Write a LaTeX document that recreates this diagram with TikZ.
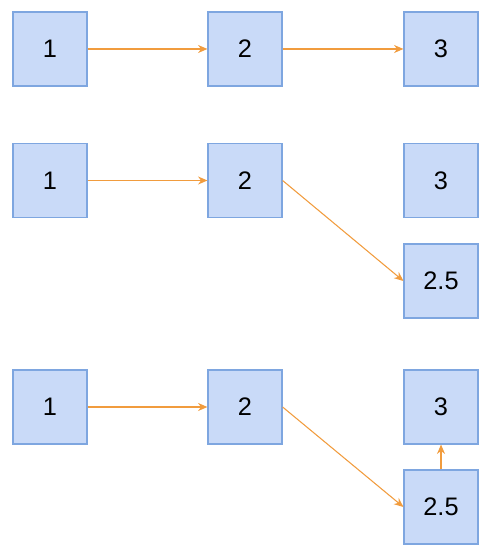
\documentclass[tikz,border=0pt]{standalone}
\usepackage{fontspec}
\setmainfont{Liberation Sans}
\usetikzlibrary{positioning,arrows.meta}
\definecolor{relleno}{HTML}{C9DAF8}
\definecolor{borde}{HTML}{7EA6E0}
\definecolor{naranja}{HTML}{F19C3E}
\tikzset{
  caja/.style={draw=borde,fill=relleno,line width=0.9pt,minimum width=74*0.75pt,minimum height=74*0.75pt,inner sep=0pt,font=\fontsize{19}{21}\selectfont},
  flecha/.style={-{Stealth[length=7pt,width=6pt,inset=2.2pt]},draw=naranja,line width=0.8pt},
}
\begin{document}
\begin{tikzpicture}[x=0.75pt,y=-0.75pt]
  \useasboundingbox (0,0) rectangle (489,555);
  % fila 1
  \node[caja] (a1) at (50,49) {1};
  \node[caja] (a2) at (245,49) {2};
  \node[caja] (a3) at (441,49) {3};
  % fila 2
  \node[caja] (b1) at (50,180.5) {1};
  \node[caja] (b2) at (245,180.5) {2};
  \node[caja] (b3) at (441,180.5) {3};
  \node[caja] (b4) at (441,281) {2.5};
  % fila 3
  \node[caja] (c1) at (50,407) {1};
  \node[caja] (c2) at (245,407) {2};
  \node[caja] (c3) at (441,407) {3};
  \node[caja] (c4) at (441,507) {2.5};
  \draw[flecha] (a1) -- (a2);
  \draw[flecha] (a2) -- (a3);
  \draw[flecha] (b1) -- (b2);
  \draw[flecha] (b2.east) -- (b4.west);
  \draw[flecha] (c1) -- (c2);
  \draw[flecha] (c2.east) -- (c4.west);
  \draw[flecha] (c4) -- (c3);
\end{tikzpicture}
\end{document}
